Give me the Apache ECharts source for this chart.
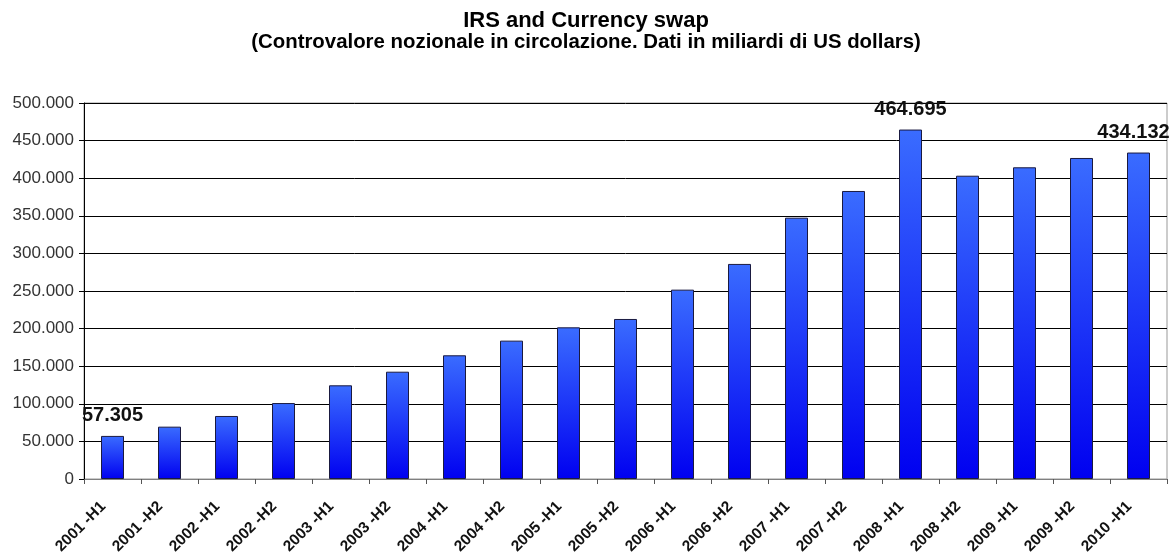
<!DOCTYPE html>
<html>
<head>
<meta charset="utf-8">
<script src="https://cdn.jsdelivr.net/npm/echarts@6/dist/echarts.min.js"></script>
<style>html,body{margin:0;padding:0;background:#fff}#c{width:1172px;height:558px}</style>
</head>
<body>
<div id="c"></div>
<script>
const categories = ["2001 -H1","2001 -H2","2002 -H1","2002 -H2","2003 -H1","2003 -H2","2004 -H1","2004 -H2","2005 -H1","2005 -H2","2006 -H1","2006 -H2","2007 -H1","2007 -H2","2008 -H1","2008 -H2","2009 -H1","2009 -H2","2010 -H1"];
const values = [57305, 69600, 83800, 101000, 124600, 142700, 164500, 184000, 201700, 212800, 251800, 286000, 347500, 383000, 464695, 403300, 414500, 426900, 434132];
const labelledIndices = [0, 14, 18];
const titleText = "IRS and Currency swap";
const subtitleText = "(Controvalore nozionale in circolazione. Dati in miliardi di US dollars)";

function fmt(v){
  return String(Math.round(v)).replace(/\B(?=(\d{3})+(?!\d))/g, ".");
}

const chart = echarts.init(document.getElementById('c'));
const FONT = '"Liberation Sans", Arial, sans-serif';
chart.setOption({
  animation: false,
  backgroundColor: '#fff',
  title: [{
    text: titleText,
    left: 'center',
    top: 10,
    padding: 0,
    textStyle: {fontFamily: FONT, fontSize: 22, fontWeight: 'bold', color: '#000'}
  }, {
    text: subtitleText,
    left: 'center',
    top: 32,
    padding: 0,
    textStyle: {fontFamily: FONT, fontSize: 20.4, fontWeight: 'bold', color: '#000'}
  }],
  grid: {left: 84, right: 5, top: 103, bottom: 79, show: true, borderColor: '#999', borderWidth: 1},
  xAxis: {
    type: 'category',
    data: categories,
    boundaryGap: true,
    axisLine: {lineStyle: {color: '#808080', width: 1}},
    axisTick: {show: true, alignWithLabel: false, length: 5, lineStyle: {color: '#555'}},
    axisLabel: {rotate: 45, interval: 0, fontFamily: FONT, fontSize: 15.5, fontWeight: 'bold', color: '#111', margin: 16, padding: [0, 13, 0, 0]}
  },
  yAxis: {
    type: 'value',
    min: 0, max: 500000, interval: 50000,
    axisLine: {show: true, lineStyle: {color: '#000', width: 1}},
    axisTick: {show: true, length: 5, lineStyle: {color: '#000'}},
    axisLabel: {fontFamily: FONT, fontSize: 17, color: '#333', margin: 10, formatter: v => fmt(v)},
    splitLine: {lineStyle: {color: '#000', width: 1}}
  },
  series: [{
    type: 'bar',
    barWidth: 23,
    data: values.map((v, i) => ({
      value: v,
      label: {show: labelledIndices.includes(i), offset: i === values.length - 1 ? [-5, 0] : [0, 0]}
    })),
    itemStyle: {
      borderColor: '#1a1a40',
      borderWidth: 1,
      color: new echarts.graphic.LinearGradient(0, 0, 0, 1, [
        {offset: 0, color: '#3a6cff'},
        {offset: 1, color: '#0000f0'}
      ])
    },
    label: {
      position: 'top',
      distance: 10,
      fontFamily: FONT, fontSize: 20, fontWeight: 'bold', color: '#111',
      formatter: p => fmt(p.value)
    }
  }]
});
</script>
</body>
</html>
